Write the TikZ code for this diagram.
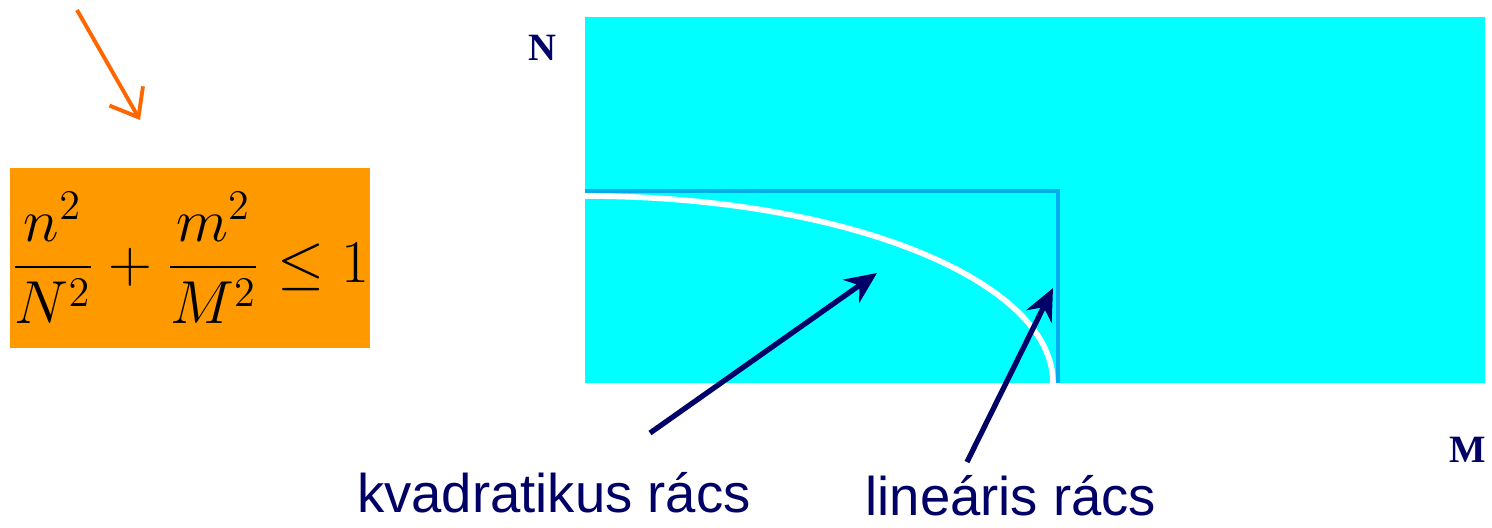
\documentclass[tikz,border=0pt]{standalone}
\usepackage{amsmath,amssymb}
\usepackage{fontspec}
\usetikzlibrary{arrows.meta}
\newfontfamily\labelsans{Liberation Sans}
\newfontfamily\labelserif{Liberation Serif}
\definecolor{gridcyan}{HTML}{00FFFF}
\definecolor{gridblue}{HTML}{00AEEF}
\definecolor{formorange}{HTML}{FF9900}
\definecolor{arroworange}{HTML}{FF6600}
\definecolor{labelnavy}{HTML}{000066}

\tikzset{
  navyarrow/.style={draw=labelnavy, line width=1.5pt, -{Stealth[length=9pt, width=8pt]}},
  gridlabel/.style={text=labelnavy, font=\labelsans\fontsize{15.5}{17}\selectfont, inner sep=0pt},
  axislabel/.style={text=labelnavy, font=\labelserif\bfseries\fontsize{11}{13}\selectfont, inner sep=0pt}
}

\begin{document}
\begin{tikzpicture}
    \useasboundingbox (0,0) rectangle (14.92,5.27);

    % Domain
    \fill[gridcyan] (5.85,1.44) rectangle (14.85,5.10);
    \node[axislabel] (nlab) at (5.42,4.79) {N};
    \node[axislabel] (mlab) at (14.68,0.77) {M};

    % Linear grid boundary
    \draw[gridblue, line width=1.3pt] (5.85,3.36) -- (10.58,3.36) -- (10.58,1.44);

    % Quadratic grid boundary (quarter ellipse)
    \draw[white, line width=1.6pt] (5.85,3.31) arc[start angle=90, end angle=0, x radius=4.68, y radius=1.87];

    % Condition
    \fill[formorange] (0.10,1.79) rectangle (3.70,3.59);
    \node[inner sep=0pt] (cond) at (1.90,2.69)
      {\fontsize{17}{20}\selectfont$\displaystyle \frac{n^2}{N^2}+\frac{m^2}{M^2}\leq 1$};
    \coordinate (otail) at (0.77,5.17);
    \coordinate (otip) at (1.40,4.07);
    \draw[arroworange, line width=1.1pt, -{Straight Barb[length=7pt, width=11pt]}] (otail) -- (otip);

    % Labels
    \node[gridlabel] (kvad) at (5.54,0.34) {kvadratikus rács};
    \node[gridlabel] (lin) at (10.11,0.31) {lineáris rács};
    \coordinate (kvtail) at (6.50,0.94);
    \coordinate (kvtip) at (8.77,2.54);
    \coordinate (lintail) at (9.67,0.65);
    \coordinate (lintip) at (10.53,2.39);
    \draw[navyarrow] (kvtail) -- (kvtip);
    \draw[navyarrow] (lintail) -- (lintip);
\end{tikzpicture}
\end{document}
